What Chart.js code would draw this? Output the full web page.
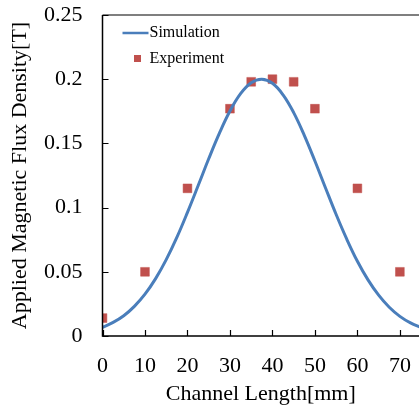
<!DOCTYPE html>
<html>
<head>
<meta charset="utf-8">
<script src="https://cdn.jsdelivr.net/npm/chart.js@4/dist/chart.umd.min.js"></script>
<style>
  html, body { margin: 0; padding: 0; background: #ffffff; }
  #wrap { width: 419px; height: 407px; }
</style>
</head>
<body>
<div id="wrap"><canvas id="c" width="419" height="407"></canvas></div>
<script>
// Simulation curve
const simX = [0, 2.5, 5, 7.5, 10, 12.5, 15, 17.5, 20, 22.5, 25, 27.5, 30, 32.5, 35, 37.5, 40, 42.5, 45, 47.5, 50, 52.5, 55, 57.5, 60, 62.5, 65, 67.5, 70, 72.5, 75];
const simY = [0.0068, 0.0106, 0.0158, 0.0231, 0.0326, 0.0447, 0.0595, 0.0768, 0.0963, 0.117, 0.138, 0.1578, 0.1752, 0.1887, 0.1972, 0.2, 0.1968, 0.1878, 0.174, 0.1563, 0.1363, 0.1153, 0.0946, 0.0754, 0.0582, 0.0437, 0.0318, 0.0224, 0.0153, 0.0102, 0.0066];
// Experiment points
const expX = [0, 10, 20, 30, 35, 40, 45, 50, 60, 70];
const expY = [0.014, 0.05, 0.115, 0.177, 0.198, 0.2, 0.198, 0.177, 0.115, 0.05];
// Ticks
const xTicks = [0, 10, 20, 30, 40, 50, 60, 70];
const yTicks = [0, 0.05, 0.1, 0.15, 0.2, 0.25];
const yTickLabels = ['0', '0.05', '0.1', '0.15', '0.2', '0.25'];
const seriesNames = ['Simulation', 'Experiment'];

const BLUE = '#4a7ebb';
const RED = '#c0504d';
const FONT = '"Liberation Serif", "Times New Roman", serif';

const framePlugin = {
  id: 'frame',
  afterDraw(chart) {
    const ctx = chart.ctx;
    const a = chart.chartArea;
    const xs = chart.scales.x, ys = chart.scales.y;
    ctx.save();
    ctx.strokeStyle = '#000';
    ctx.lineWidth = 1.5;
    ctx.beginPath();
    ctx.moveTo(a.left, a.top);
    ctx.lineTo(a.left, a.bottom);
    ctx.lineTo(a.right + 2, a.bottom);
    ctx.stroke();
    ctx.lineWidth = 1.2;
    ctx.beginPath();
    ctx.moveTo(a.left, a.top);
    ctx.lineTo(a.right + 2, a.top);
    ctx.stroke();
    ctx.lineWidth = 1.2;
    ctx.beginPath();
    xTicks.forEach(v => {
      const px = Math.round(xs.getPixelForValue(v)) + 0.5;
      ctx.moveTo(px, a.bottom);
      ctx.lineTo(px, a.bottom - 6);
    });
    yTicks.forEach(v => {
      const py = Math.round(ys.getPixelForValue(v)) + 0.5;
      ctx.moveTo(a.left, py);
      ctx.lineTo(a.left + 6, py);
    });
    ctx.stroke();
    // legend
    ctx.font = '16px ' + FONT;
    ctx.fillStyle = '#000';
    ctx.textBaseline = 'middle';
    ctx.textAlign = 'left';
    ctx.strokeStyle = BLUE;
    ctx.lineWidth = 2.5;
    ctx.beginPath();
    ctx.moveTo(a.left + 20, a.top + 18);
    ctx.lineTo(a.left + 46, a.top + 18);
    ctx.stroke();
    ctx.fillText(seriesNames[0], a.left + 47, a.top + 18);
    ctx.fillStyle = RED;
    ctx.fillRect(a.left + 31.5, a.top + 40, 7, 7);
    ctx.fillStyle = '#000';
    ctx.fillText(seriesNames[1], a.left + 47, a.top + 43.5);
    ctx.restore();
  }
};

new Chart(document.getElementById('c'), {
  type: 'scatter',
  data: {
    datasets: [
      {
        label: seriesNames[0],
        type: 'line',
        data: simX.map((x, i) => ({ x: x, y: simY[i] })),
        borderColor: BLUE,
        borderWidth: 3,
        pointRadius: 0,
        tension: 0.4,
        fill: false
      },
      {
        label: seriesNames[1],
        data: expX.map((x, i) => ({ x: x, y: expY[i] })),
        pointStyle: 'rect',
        pointRadius: 6.2,
        backgroundColor: RED,
        borderColor: RED,
        borderWidth: 0.5
      }
    ]
  },
  options: {
    responsive: false,
    animation: false,
    devicePixelRatio: 1,
    layout: { padding: 0, autoPadding: false },
    plugins: { legend: { display: false }, tooltip: { enabled: false } },
    scales: {
      x: {
        type: 'linear',
        min: 0,
        max: 74.5,
        afterBuildTicks: s => { s.ticks = xTicks.map(v => ({ value: v })); },
        afterFit: s => { s.height = 71; s.paddingLeft = 0; s.paddingRight = 0; },
        grid: { display: false, drawTicks: false },
        border: { display: false },
        ticks: { color: '#000', font: { family: FONT, size: 22 }, padding: 17, maxRotation: 0 },
        title: { display: true, text: 'Channel Length[mm]', color: '#000', font: { family: FONT, size: 22 }, padding: { top: 0, bottom: 0 } }
      },
      y: {
        min: 0,
        max: 0.25,
        afterBuildTicks: s => { s.ticks = yTicks.map(v => ({ value: v })); },
        afterFit: s => { s.width = 102.5; s.paddingTop = 15; s.paddingBottom = 0; },
        grid: { display: false, drawTicks: false },
        border: { display: false },
        ticks: {
          color: '#000', font: { family: FONT, size: 22 }, padding: 20,
          callback: (v) => { const i = yTicks.findIndex(t => Math.abs(t - v) < 1e-9); return i >= 0 ? yTickLabels[i] : ''; }
        },
        title: { display: true, text: 'Applied Magnetic Flux Density[T]', color: '#000', font: { family: FONT, size: 22 }, padding: { top: 7, bottom: 0 } }
      }
    }
  },
  plugins: [framePlugin]
});
</script>
</body>
</html>
